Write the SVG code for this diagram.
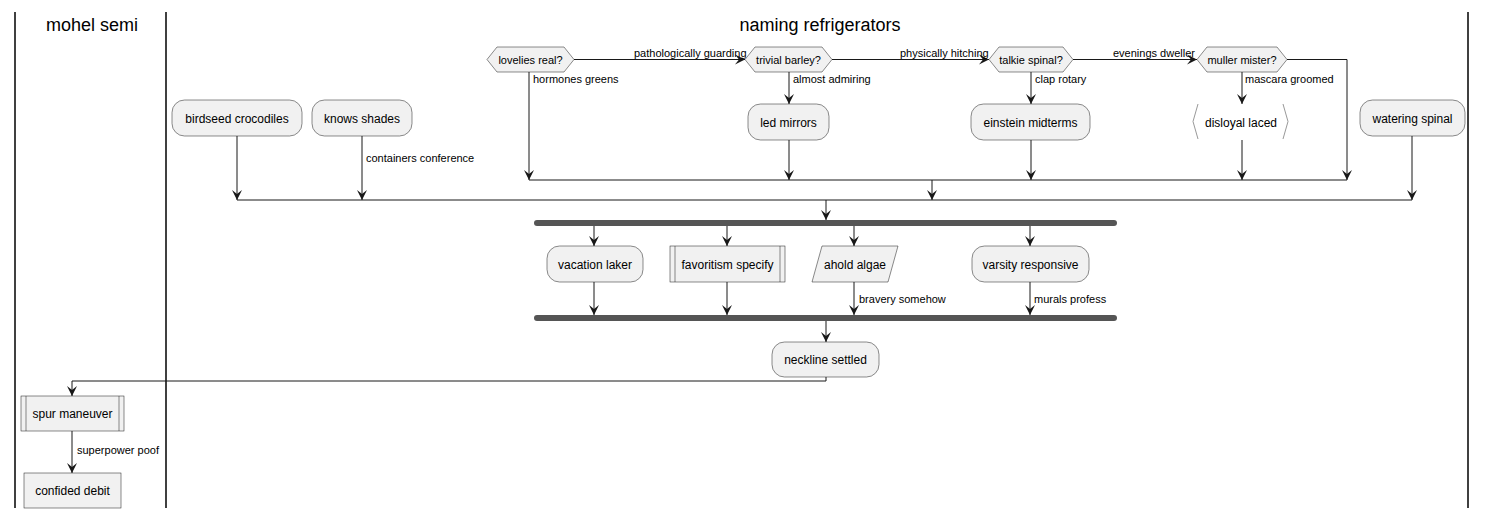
<svg xmlns="http://www.w3.org/2000/svg" width="1486" height="519" viewBox="0 0 1486 519">
<style>
text{font-family:"Liberation Sans",Arial,sans-serif;fill:#000}
.t{font-size:12px;text-anchor:middle}
.d{font-size:11px;text-anchor:middle}
.l{font-size:11px}
.h{font-size:18px;text-anchor:middle}
.box{fill:#F1F1F1;stroke:#181818;stroke-width:0.5}
.c{fill:none;stroke:#181818;stroke-width:1}
.ca{fill:none;stroke:#181818;stroke-width:1;marker-end:url(#ar)}
.lane{stroke:#000;stroke-width:1.5}
.bar{fill:#555555}
</style>
<defs>
<marker id="ar" viewBox="-11 -6 12 12" refX="0" refY="0" markerWidth="12" markerHeight="12" markerUnits="userSpaceOnUse" orient="auto">
<path d="M0,0 L-10,-5 L-6,0 L-10,5 Z" fill="#181818"/>
</marker>
</defs>
<rect width="1486" height="519" fill="#fff"/>
<g id="lanes">
<line class="lane" x1="15" y1="12" x2="15" y2="508"/>
<line class="lane" x1="166" y1="12" x2="166" y2="508"/>
<line class="lane" x1="1468" y1="12" x2="1468" y2="508"/>
<text class="h" x="92" y="31">mohel semi</text>
<text class="h" x="820" y="31">naming refrigerators</text>
</g>
<g id="connectors">
<polyline class="ca" points="574,59.5 745,59.5"/>
<polyline class="ca" points="832,59.5 989,59.5"/>
<polyline class="ca" points="1073,59.5 1197,59.5"/>
<polyline class="ca" points="529,72 529,180"/>
<polyline class="ca" points="789,72 789,104"/>
<polyline class="ca" points="1031,72 1031,104"/>
<polyline class="ca" points="1242,72 1242,104"/>
<polyline class="ca" points="1287,59.5 1347,59.5 1347,180"/>
<polyline class="ca" points="789,140 789,180"/>
<polyline class="ca" points="1031,140 1031,180"/>
<polyline class="ca" points="1242,140 1242,180"/>
<line class="c" x1="529" y1="180" x2="1347" y2="180"/>
<polyline class="ca" points="932,180 932,200"/>
<polyline class="ca" points="237,136 237,200"/>
<polyline class="ca" points="362,136 362,200"/>
<polyline class="ca" points="1412,136 1412,200"/>
<line class="c" x1="237" y1="200" x2="1412" y2="200"/>
<polyline class="ca" points="826,200 826,220"/>
<polyline class="ca" points="594,226 594,246"/>
<polyline class="ca" points="727,226 727,246"/>
<polyline class="ca" points="854,226 854,246"/>
<polyline class="ca" points="1030,226 1030,246"/>
<polyline class="ca" points="594,282 594,315"/>
<polyline class="ca" points="727,282 727,315"/>
<polyline class="ca" points="854,282 854,315"/>
<polyline class="ca" points="1030,282 1030,315"/>
<polyline class="ca" points="826,321 826,342"/>
<polyline class="ca" points="826,377 826,381 72,381 72,396"/>
<polyline class="ca" points="72,431 72,473"/>
<text class="l" x="634" y="57">pathologically guarding</text>
<text class="l" x="900" y="57">physically hitching</text>
<text class="l" x="1113" y="57">evenings dweller</text>
<text class="l" x="533" y="83">hormones greens</text>
<text class="l" x="793" y="83">almost admiring</text>
<text class="l" x="1035" y="83">clap rotary</text>
<text class="l" x="1245" y="83">mascara groomed</text>
<text class="l" x="366" y="162">containers conference</text>
<text class="l" x="859" y="303">bravery somehow</text>
<text class="l" x="1034" y="303">murals profess</text>
<text class="l" x="77" y="454">superpower poof</text>
</g>
<g id="lovelies">
<polygon class="box" points="487,59.5 497,47 564,47 574,59.5 564,72 497,72"/>
<text class="d" x="530.5" y="63.5">lovelies real?</text>
</g>
<g id="trivial">
<polygon class="box" points="745,59.5 755,47 822,47 832,59.5 822,72 755,72"/>
<text class="d" x="788.5" y="63.5">trivial barley?</text>
</g>
<g id="talkie">
<polygon class="box" points="989,59.5 999,47 1063,47 1073,59.5 1063,72 999,72"/>
<text class="d" x="1031" y="63.5">talkie spinal?</text>
</g>
<g id="muller">
<polygon class="box" points="1197,59.5 1207,47 1277,47 1287,59.5 1277,72 1207,72"/>
<text class="d" x="1242" y="63.5">muller mister?</text>
</g>
<g id="birdseed">
<rect class="box" x="172" y="100" width="130" height="36" rx="12.5"/>
<text class="t" x="237" y="122.5">birdseed crocodiles</text>
</g>
<g id="knows">
<rect class="box" x="312" y="100" width="100" height="36" rx="12.5"/>
<text class="t" x="362" y="122.5">knows shades</text>
</g>
<g id="led">
<rect class="box" x="748" y="104" width="81" height="36" rx="12.5"/>
<text class="t" x="788.5" y="126.5">led mirrors</text>
</g>
<g id="einstein">
<rect class="box" x="971" y="104" width="119" height="36" rx="12.5"/>
<text class="t" x="1030.5" y="126.5">einstein midterms</text>
</g>
<g id="disloyal">
<polyline points="1198,104 1193,121.5 1198,139" fill="none" stroke="#999" stroke-width="1"/>
<polyline points="1283,104 1288,121.5 1283,139" fill="none" stroke="#999" stroke-width="1"/>
<text class="t" x="1241" y="126.5">disloyal laced</text>
</g>
<g id="watering">
<rect class="box" x="1360" y="100" width="105" height="36" rx="12.5"/>
<text class="t" x="1412.5" y="122.5">watering spinal</text>
</g>
<g id="fork1">
<rect class="bar" x="534" y="220" width="583" height="6" rx="3"/>
</g>
<g id="vacation">
<rect class="box" x="547" y="246" width="96" height="36" rx="12.5"/>
<text class="t" x="595" y="268.5">vacation laker</text>
</g>
<g id="favoritism">
<rect class="box" x="670" y="246" width="115" height="36"/>
<line x1="675" y1="246" x2="675" y2="282" stroke="#181818" stroke-width="0.5"/>
<line x1="780" y1="246" x2="780" y2="282" stroke="#181818" stroke-width="0.5"/>
<text class="t" x="727.5" y="268.5">favoritism specify</text>
</g>
<g id="ahold">
<polygon class="box" points="822,246 898,246 888,282 812,282"/>
<text class="t" x="855" y="268.5">ahold algae</text>
</g>
<g id="varsity">
<rect class="box" x="972" y="246" width="117" height="36" rx="12.5"/>
<text class="t" x="1030.5" y="268.5">varsity responsive</text>
</g>
<g id="fork2">
<rect class="bar" x="534" y="315" width="583" height="6" rx="3"/>
</g>
<g id="neckline">
<rect class="box" x="772" y="342" width="107" height="35" rx="12.5"/>
<text class="t" x="825.5" y="364">neckline settled</text>
</g>
<g id="spur">
<rect class="box" x="21" y="396" width="103" height="35"/>
<line x1="26" y1="396" x2="26" y2="431" stroke="#181818" stroke-width="0.5"/>
<line x1="119" y1="396" x2="119" y2="431" stroke="#181818" stroke-width="0.5"/>
<text class="t" x="72.5" y="418">spur maneuver</text>
</g>
<g id="confided">
<rect class="box" x="24" y="473" width="97" height="35"/>
<text class="t" x="72.5" y="495">confided debit</text>
</g>
</svg>
